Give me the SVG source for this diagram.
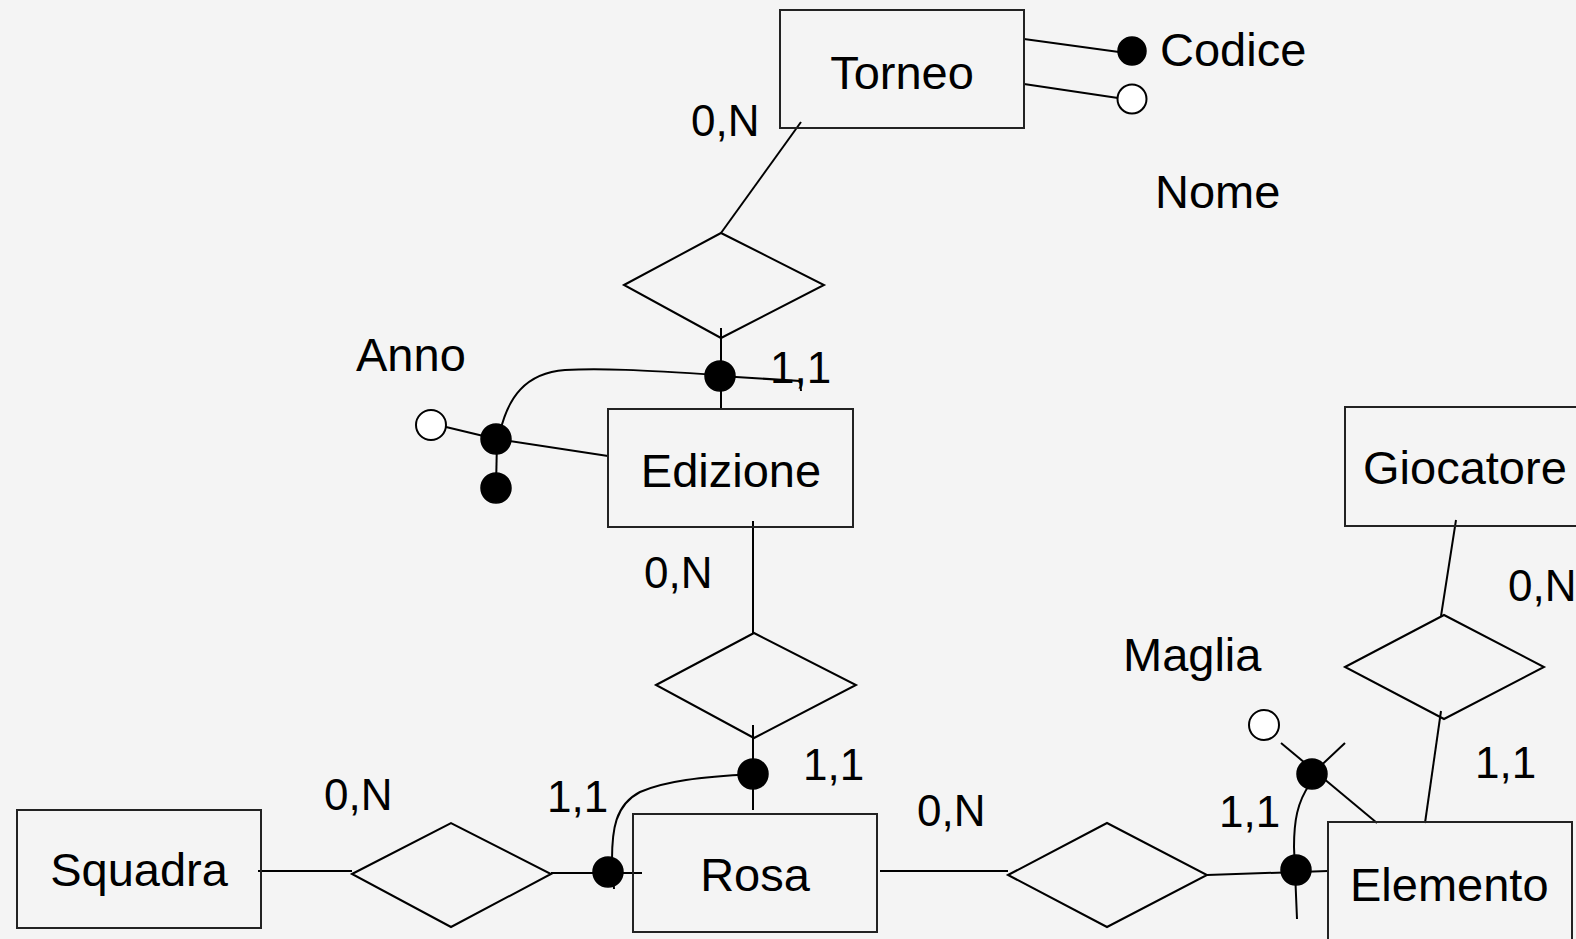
<svg xmlns="http://www.w3.org/2000/svg" width="1576" height="939" viewBox="0 0 1576 939">
<style>
.bg{fill:#f4f4f4}
.ent{fill:none;stroke:#222;stroke-width:2}
.rel{fill:none;stroke:#000;stroke-width:2}
.ln{fill:none;stroke:#000;stroke-width:2}
.dot{fill:#000;stroke:#000;stroke-width:1.5}
.odot{fill:#fff;stroke:#000;stroke-width:2}
text{font-family:"Liberation Sans",Arial,sans-serif;fill:#000}
.nm{font-size:47px}
.lb{font-size:44px}
</style>
<rect class="bg" x="0" y="0" width="1576" height="939"/>
<g id="connectors">
<line class="ln" x1="801" y1="122" x2="721" y2="233"/>
<line class="ln" x1="1024" y1="39" x2="1119" y2="52"/>
<line class="ln" x1="1024" y1="84" x2="1118" y2="98"/>
<line class="ln" x1="721" y1="328" x2="721" y2="409"/>
<path class="ln" d="M720 376 L800 381 L801 391"/>
<path class="ln" d="M720 375 C640 370 600 368 565 370 C525 373 508 398 500 432"/>
<line class="ln" x1="446" y1="427" x2="496" y2="439"/>
<line class="ln" x1="496" y1="439" x2="608" y2="456"/>
<line class="ln" x1="497" y1="440" x2="496" y2="488"/>
<line class="ln" x1="753" y1="521" x2="753" y2="633"/>
<line class="ln" x1="753" y1="725" x2="753" y2="810"/>
<path class="ln" d="M753 774 C700 777 665 781 640 792 C615 805 612 830 612 860 L614 889"/>
<line class="ln" x1="258" y1="871" x2="352" y2="871"/>
<line class="ln" x1="551" y1="873" x2="642" y2="873"/>
<line class="ln" x1="880" y1="871" x2="1008" y2="871"/>
<line class="ln" x1="1207" y1="875" x2="1328" y2="871"/>
<line class="ln" x1="1281" y1="743" x2="1377" y2="823"/>
<line class="ln" x1="1312" y1="774" x2="1345" y2="743"/>
<path class="ln" d="M1310 784 C1297 802 1294 822 1294 847 L1297 919"/>
<line class="ln" x1="1456" y1="520" x2="1441" y2="616"/>
<line class="ln" x1="1441" y1="711" x2="1425" y2="823"/>
</g>
<g id="torneo"><rect class="ent" x="780" y="10" width="244" height="118"/><text class="nm" x="902" y="89" text-anchor="middle">Torneo</text></g>
<g id="codice"><circle class="dot" cx="1132" cy="51" r="14"/><text class="nm" x="1160" y="66">Codice</text></g>
<g id="nome"><circle class="odot" cx="1132" cy="99" r="14.5"/><text class="nm" x="1155" y="208">Nome</text></g>
<g id="rel-torneo-edizione"><polygon class="rel" points="624,285 721,233 824,285 721,338"/></g>
<g id="edizione"><rect class="ent" x="608" y="409" width="245" height="118"/><text class="nm" x="731" y="487" text-anchor="middle">Edizione</text></g>
<g id="anno"><circle class="odot" cx="431" cy="425" r="15"/><circle class="dot" cx="496" cy="439" r="15"/><circle class="dot" cx="496" cy="488" r="15"/><circle class="dot" cx="720" cy="376" r="15"/><text class="nm" x="356" y="371">Anno</text></g>
<g id="rel-edizione-rosa"><polygon class="rel" points="656,685 754,633 856,685 754,738"/><circle class="dot" cx="753" cy="774" r="15"/></g>
<g id="squadra"><rect class="ent" x="17" y="810" width="244" height="118"/><text class="nm" x="139" y="886" text-anchor="middle">Squadra</text></g>
<g id="rel-squadra-rosa"><polygon class="rel" points="352,874 451,823 551,874 451,927"/><circle class="dot" cx="608" cy="872" r="15"/></g>
<g id="rosa"><rect class="ent" x="633" y="814" width="244" height="118"/><text class="nm" x="755" y="891" text-anchor="middle">Rosa</text></g>
<g id="rel-rosa-elemento"><polygon class="rel" points="1008,875 1107,823 1207,875 1107,927"/><circle class="dot" cx="1296" cy="870" r="15"/></g>
<g id="maglia"><circle class="odot" cx="1264" cy="725" r="15"/><circle class="dot" cx="1312" cy="774" r="15"/><text class="nm" x="1123" y="671">Maglia</text></g>
<g id="elemento"><rect class="ent" x="1328" y="822" width="244" height="125"/><text class="nm" x="1350" y="901">Elemento</text></g>
<g id="giocatore"><rect class="ent" x="1345" y="407" width="250" height="119"/><text class="nm" x="1363" y="484">Giocatore</text></g>
<g id="rel-giocatore-elemento"><polygon class="rel" points="1345,667 1444,615 1544,667 1444,719"/></g>
<g id="labels">
<text class="lb" x="691" y="136">0,N</text>
<text class="lb" x="770" y="383">1,1</text>
<text class="lb" x="644" y="588">0,N</text>
<text class="lb" x="803" y="780">1,1</text>
<text class="lb" x="547" y="812">1,1</text>
<text class="lb" x="324" y="810">0,N</text>
<text class="lb" x="917" y="826">0,N</text>
<text class="lb" x="1219" y="827">1,1</text>
<text class="lb" x="1508" y="601">0,N</text>
<text class="lb" x="1475" y="778">1,1</text>
</g>
</svg>
